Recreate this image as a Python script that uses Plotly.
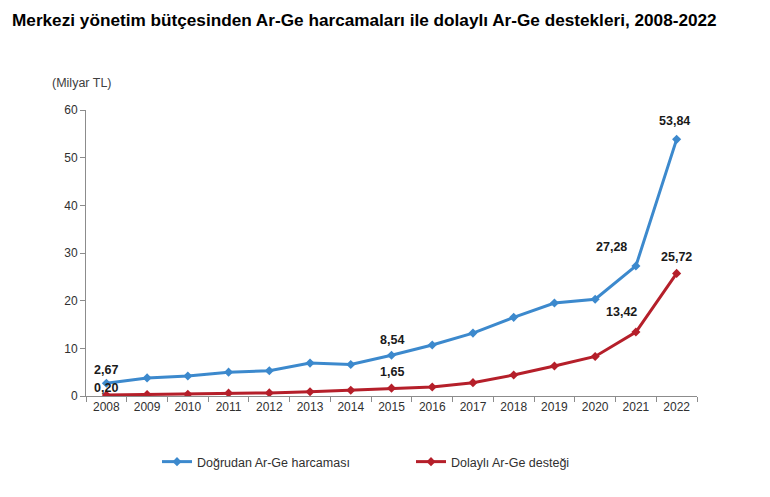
import plotly.graph_objects as go

years = [str(y) for y in range(2008, 2023)]
dogrudan = [2.67, 3.8, 4.2, 5.0, 5.3, 6.9, 6.6, 8.54, 10.7, 13.2, 16.5, 19.5, 20.3, 27.28, 53.84]
dolayli = [0.20, 0.3, 0.35, 0.6, 0.65, 0.9, 1.2, 1.65, 1.9, 2.8, 4.4, 6.3, 8.3, 13.42, 25.72]
names = ["Doğrudan Ar-Ge harcaması", "Dolaylı Ar-Ge desteği"]
title = "Merkezi yönetim bütçesinden Ar-Ge harcamaları ile dolaylı Ar-Ge destekleri, 2008-2022"
unit = "(Milyar TL)"

# labelled points: (series index, year index, xshift, yshift)
labelled = [(0, 0, 0, 13), (1, 0, 0, 7), (0, 7, 0, 15), (1, 7, 0, 16),
            (0, 13, -24, 19), (1, 13, -14, 20), (0, 14, -2, 18), (1, 14, 0, 16)]

blue = "#3C89CD"
red = "#B51F2A"
font = "Liberation Sans, Arial, sans-serif"

fig = go.Figure()
for vals, nm, col in [(dogrudan, names[0], blue), (dolayli, names[1], red)]:
    fig.add_trace(go.Scatter(x=years, y=vals, name=nm, mode="lines+markers",
                             line=dict(color=col, width=3),
                             marker=dict(symbol="diamond", size=7, color=col)))

series = [dogrudan, dolayli]
for si, yi, xs, ys in labelled:
    v = series[si][yi]
    fig.add_annotation(x=yi, y=v, text="<b>" + f"{v:.2f}".replace(".", ",") + "</b>",
                       showarrow=False, xshift=xs, yshift=ys,
                       font=dict(family=font, size=12.5, color="#1a1a1a"))

fig.add_annotation(xref="paper", yref="paper", x=(82 - 86) / 611, y=(396 - 83) / 286,
                   text=unit, showarrow=False, xanchor="center", yanchor="middle",
                   font=dict(family=font, size=12.5, color="#404040"))

fig.update_layout(
    width=770, height=497,
    margin=dict(l=86, r=73, t=110, b=101),
    paper_bgcolor="white", plot_bgcolor="white",
    title=dict(text="<b>" + title + "</b>", x=12 / 770, xref="container", xanchor="left",
               y=1 - 20 / 497, yref="container", yanchor="middle",
               font=dict(family=font, size=17.2, color="black")),
    xaxis=dict(type="category", range=[-0.5, 14.5], showgrid=False,
               showline=True, linecolor="#8c8c8c", linewidth=1,
               ticks="outside", tickson="boundaries", ticklen=5, tickcolor="#8c8c8c",
               tickfont=dict(family=font, size=12, color="#303030")),
    yaxis=dict(range=[0, 60], dtick=10, showgrid=False, zeroline=False,
               showline=True, linecolor="#8c8c8c", linewidth=1,
               ticks="outside", ticklen=5, tickcolor="#8c8c8c",
               tickfont=dict(family=font, size=12, color="#303030")),
    legend=dict(orientation="h", x=(157 - 86) / 611, xanchor="left",
                y=(396 - 462) / 286, yanchor="middle",
                entrywidth=209, entrywidthmode="pixels",
                font=dict(family=font, size=12.5, color="#303030")),
    showlegend=True,
)

fig.write_html("out.html")
